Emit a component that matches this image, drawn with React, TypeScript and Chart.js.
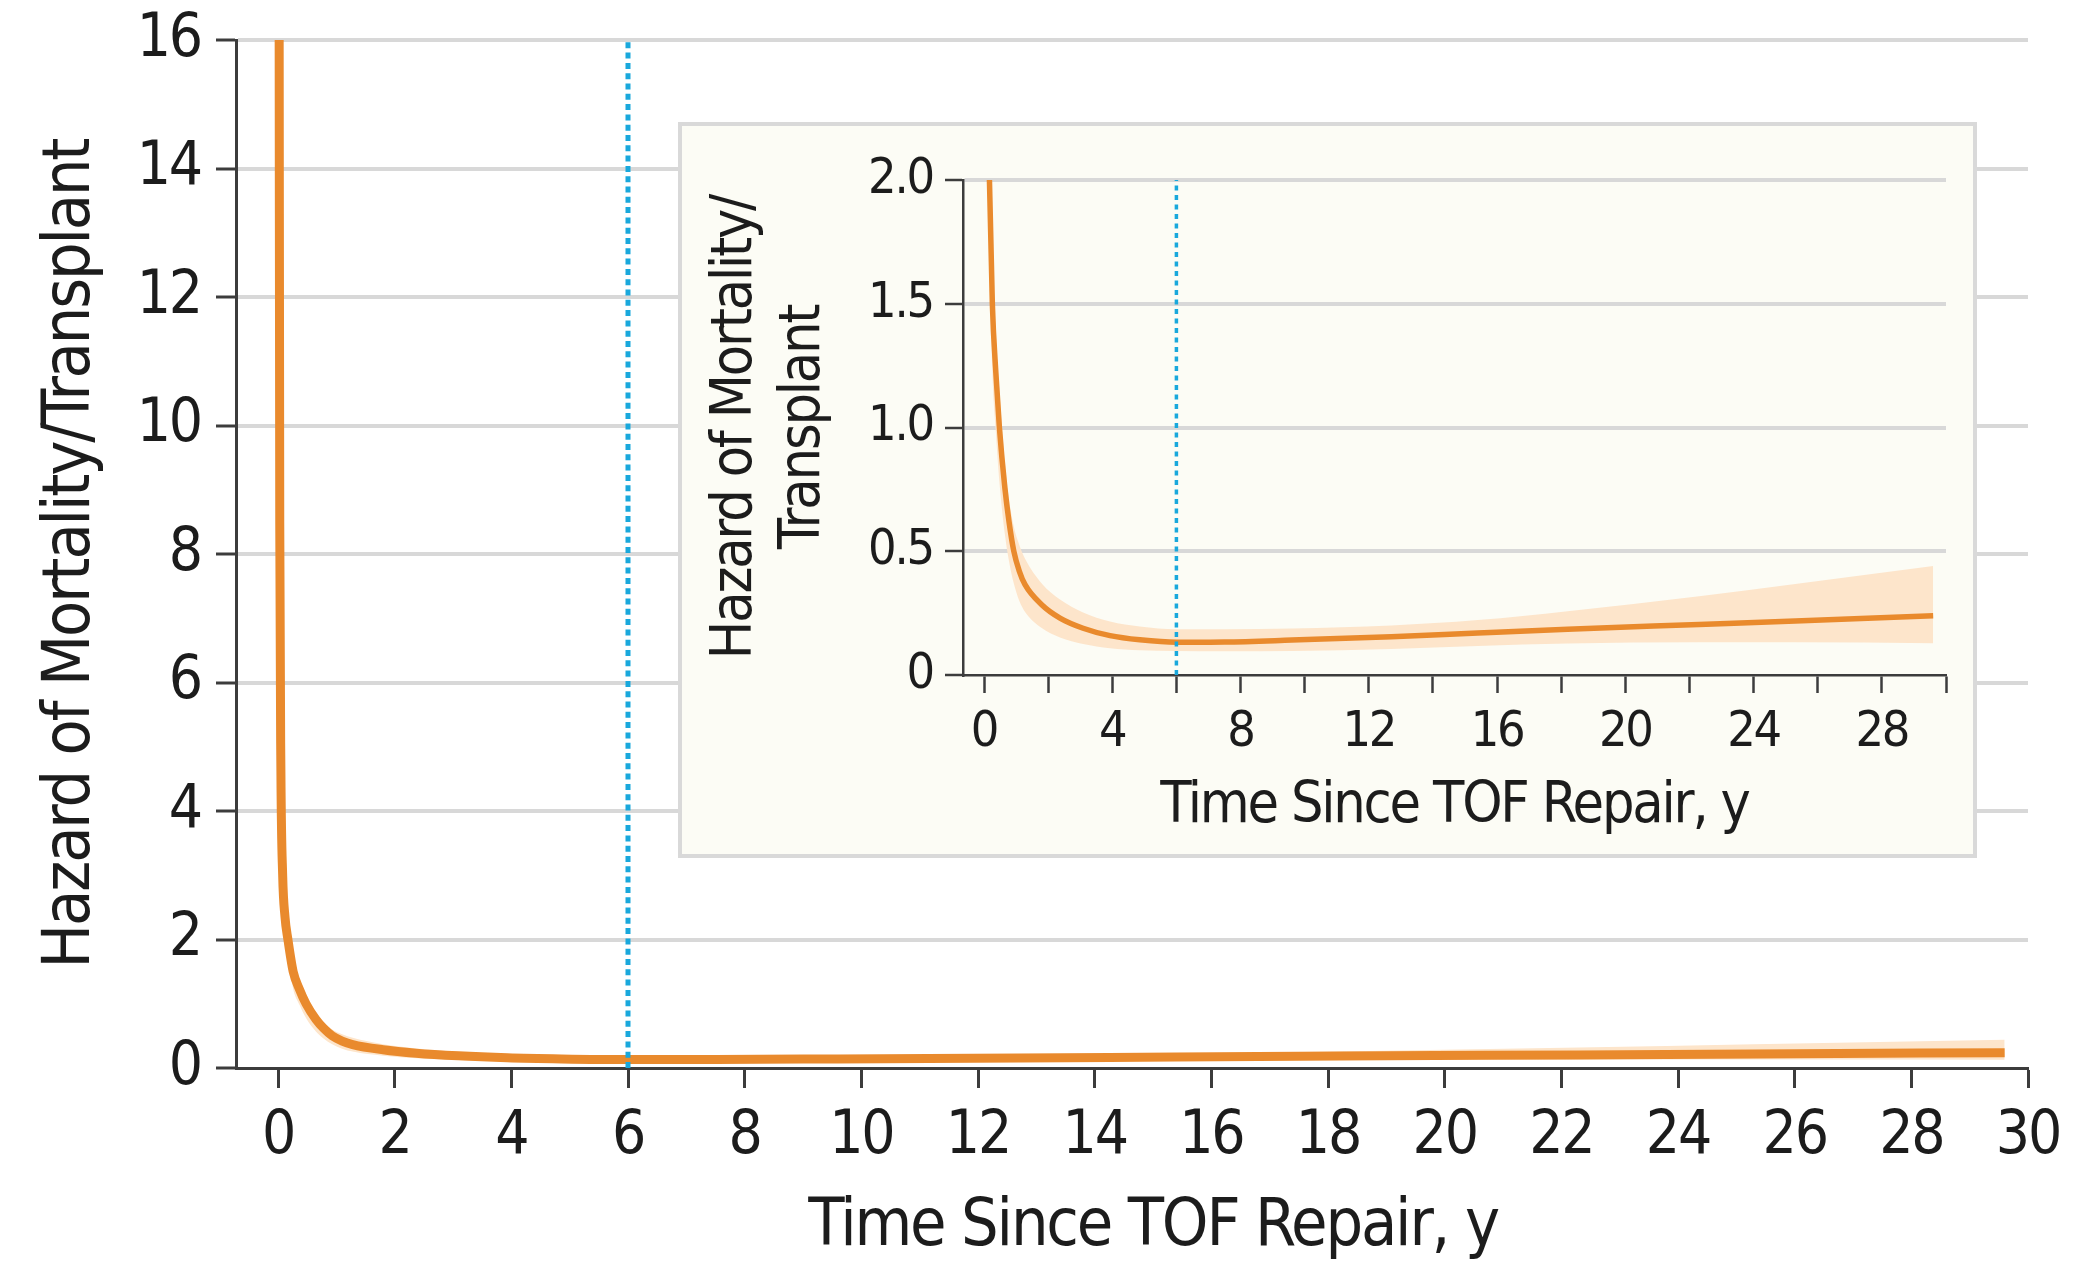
import React, { useEffect, useRef } from 'react';
import { Chart, registerables } from 'chart.js';

Chart.register(...registerables);

// ---------------- data ----------------
const timeYears = [0.02, 0.03, 0.05, 0.08, 0.12, 0.17, 0.26, 0.37, 0.48, 0.65, 0.78, 0.93, 1.1, 1.28, 1.8, 2.37, 3.09, 3.93, 4.86, 6.0, 7.5, 9.6, 12.7, 15.4, 18.2, 22.3, 25.3, 29.6];
const hazard = [16, 8.5, 4.6, 3.0, 2.35, 2.0, 1.5, 1.22, 1.0, 0.757, 0.62, 0.5, 0.42, 0.365, 0.284, 0.23, 0.189, 0.159, 0.142, 0.132, 0.133, 0.141, 0.155, 0.17, 0.185, 0.204, 0.218, 0.239];
const hazardUpper = [16, 9.5, 5.1, 3.3, 2.6, 2.2, 1.68, 1.38, 1.15, 0.86, 0.71, 0.6, 0.525, 0.47, 0.37, 0.305, 0.253, 0.216, 0.196, 0.185, 0.185, 0.188, 0.2, 0.222, 0.258, 0.318, 0.368, 0.44];
const hazardLower = [16, 7.8, 4.1, 2.7, 2.1, 1.75, 1.23, 0.98, 0.78, 0.57, 0.46, 0.37, 0.3, 0.255, 0.19, 0.152, 0.125, 0.108, 0.1, 0.097, 0.096, 0.097, 0.105, 0.117, 0.127, 0.132, 0.132, 0.128];
const landmarkYear = 6;

const mainXTicks = [0, 2, 4, 6, 8, 10, 12, 14, 16, 18, 20, 22, 24, 26, 28, 30];
const mainXLabels = ['0', '2', '4', '6', '8', '10', '12', '14', '16', '18', '20', '22', '24', '26', '28', '30'];
const mainYTicks = [0, 2, 4, 6, 8, 10, 12, 14, 16];
const mainYLabels = ['0', '2', '4', '6', '8', '10', '12', '14', '16'];
const insetXTicks = [0, 2, 4, 6, 8, 10, 12, 14, 16, 18, 20, 22, 24, 26, 28, 30];
const insetXLabels = ['0', '', '4', '', '8', '', '12', '', '16', '', '20', '', '24', '', '28', ''];
const insetYTicks = [0, 0.5, 1, 1.5, 2];
const insetYLabels = ['0', '0.5', '1.0', '1.5', '2.0'];

const xTitle = 'Time Since TOF Repair, y';
const mainYTitle = 'Hazard of Mortality/Transplant';
const insetYTitle = ['Hazard of Mortality/', 'Transplant'];

// ---------------- style ----------------
const FONT = '"Noto Sans Condensed", "Liberation Sans Narrow", "DejaVu Sans Condensed", "Liberation Sans", sans-serif';
const ORANGE = '#e98a2d';
const BAND = '#fde5cb';
const BLUE = '#19a8dc';
const GRID = '#d8d8d8';
const AXIS = '#3c3c3c';
const TEXT = '#1c1c1c';

// narrows the lettering a little when only a wide sans face is available
const condensePlugin = {
  id: 'condense',
  beforeDraw(chart: any, _args: any, opts: any) {
    const ctx = chart.ctx as any;
    if (!('letterSpacing' in ctx)) return;
    ctx.letterSpacing = '0px';
    ctx.font = `${opts.size}px ${FONT}`;
    const w = ctx.measureText(xTitle).width;
    let ls = (opts.target - w) / xTitle.length;
    ls = Math.max(-2.2, Math.min(1, ls));
    ctx.letterSpacing = ls.toFixed(2) + 'px';
  },
};

// x-axis title centred over the data range [from, to] of the x scale
const dataTitlePlugin = {
  id: 'dataTitle',
  afterDraw(chart: any, _args: any, opts: any) {
    if (!opts || !opts.text) return;
    const xs = chart.scales.x;
    const cx = (xs.getPixelForValue(opts.from) + xs.getPixelForValue(opts.to)) / 2;
    const ctx = chart.ctx;
    ctx.save();
    ctx.font = `${opts.size}px ${FONT}`;
    ctx.fillStyle = TEXT;
    ctx.textAlign = 'center';
    ctx.textBaseline = 'middle';
    ctx.fillText(opts.text, cx, chart.height - opts.offset);
    ctx.restore();
  },
};

type Cfg = {
  xMin: number; xMax: number; yMax: number;
  xTicks: number[]; xLabels: string[]; yTicks: number[]; yLabels: string[];
  yTitle: string | string[];
  padding: { top: number; right: number; left: number; bottom: number };
  yWidth: number; xHeight: number;
  tickFont: number; titleFont: number; titleLH: number;
  xTickPad: number; yTickPad: number; tickLen: number; axisW: number;
  xTitlePadBottom: number; yTitlePadTop: number;
  lineW: number; blueW: number; blueDash: number[];
  titleTarget: number;
  xTitleOnData: boolean;
};

function buildConfig(c: Cfg): any {
  const pts = (ys: number[]) => timeYears.map((t, i) => ({ x: t, y: ys[i] }));
  return {
    type: 'line',
    data: {
      datasets: [
        { data: pts(hazardUpper), borderWidth: 0, pointRadius: 0, fill: '+1', backgroundColor: BAND, borderColor: 'rgba(0,0,0,0)', cubicInterpolationMode: 'monotone', order: 3, clip: 0 },
        { data: pts(hazardLower), borderWidth: 0, pointRadius: 0, fill: false, borderColor: 'rgba(0,0,0,0)', cubicInterpolationMode: 'monotone', order: 4, clip: 0 },
        { data: pts(hazard), borderWidth: c.lineW, pointRadius: 0, fill: false, borderColor: ORANGE, cubicInterpolationMode: 'monotone', order: 2, clip: 0, borderCapStyle: 'butt' },
        { data: [{ x: landmarkYear, y: 0 }, { x: landmarkYear, y: c.yMax }], borderWidth: c.blueW, pointRadius: 0, fill: false, borderColor: BLUE, borderDash: c.blueDash, borderCapStyle: 'butt', order: 1, clip: 0 },
      ],
    },
    plugins: [condensePlugin, dataTitlePlugin],
    options: {
      responsive: false,
      animation: false,
      devicePixelRatio: 1,
      layout: { padding: c.padding },
      plugins: {
        legend: { display: false },
        tooltip: { enabled: false },
        title: { display: false },
        condense: { size: c.titleFont, target: c.titleTarget },
        dataTitle: c.xTitleOnData
          ? { text: xTitle, from: 0, to: c.xMax, size: c.titleFont, offset: c.titleFont * c.titleLH / 2 + c.xTitlePadBottom }
          : { text: '' },
      },
      scales: {
        x: {
          type: 'linear',
          min: c.xMin,
          max: c.xMax,
          afterBuildTicks: (s: any) => { s.ticks = c.xTicks.map((v) => ({ value: v })); },
          afterFit: (s: any) => { s.height = c.xHeight; },
          grid: { drawOnChartArea: false, drawTicks: true, tickLength: c.tickLen, tickColor: AXIS, tickWidth: c.axisW },
          border: { display: true, color: AXIS, width: c.axisW },
          ticks: {
            autoSkip: false, maxRotation: 0, minRotation: 0, padding: c.xTickPad, color: TEXT,
            font: { family: FONT, size: c.tickFont, lineHeight: 1.2 },
            callback: (_v: any, i: number) => c.xLabels[i],
          },
          title: { display: !c.xTitleOnData, text: xTitle, color: TEXT, font: { family: FONT, size: c.titleFont, lineHeight: c.titleLH }, padding: { top: 0, bottom: c.xTitlePadBottom } },
        },
        y: {
          type: 'linear',
          min: 0,
          max: c.yMax,
          afterBuildTicks: (s: any) => { s.ticks = c.yTicks.map((v) => ({ value: v })); },
          afterFit: (s: any) => { s.width = c.yWidth; },
          grid: {
            color: (ctx: any) => (ctx.tick && ctx.tick.value === 0 ? 'rgba(0,0,0,0)' : GRID),
            lineWidth: 4, drawTicks: true, tickLength: c.tickLen, tickColor: AXIS, tickWidth: c.axisW,
          },
          border: { display: true, color: AXIS, width: c.axisW },
          ticks: {
            padding: c.yTickPad, color: TEXT,
            font: { family: FONT, size: c.tickFont, lineHeight: 0.8 },
            callback: (_v: any, i: number) => c.yLabels[i],
          },
          title: { display: true, text: c.yTitle, color: TEXT, font: { family: FONT, size: c.titleFont, lineHeight: c.titleLH }, padding: { top: c.yTitlePadTop, bottom: 0 } },
        },
      },
    },
  };
}

export default function App() {
  const mainRef = useRef<HTMLCanvasElement | null>(null);
  const insetRef = useRef<HTMLCanvasElement | null>(null);

  useEffect(() => {
    const main = new Chart(mainRef.current as HTMLCanvasElement, buildConfig({
      xMin: -0.72, xMax: 30, yMax: 16,
      xTicks: mainXTicks, xLabels: mainXLabels, yTicks: mainYTicks, yLabels: mainYLabels,
      yTitle: mainYTitle,
      padding: { top: 40, right: 48, left: 0, bottom: 0 },
      yWidth: 236, xHeight: 195,
      tickFont: 60, titleFont: 66, titleLH: 1.0,
      xTickPad: 13, yTickPad: 15, tickLen: 20, axisW: 3,
      xTitlePadBottom: 2, yTitlePadTop: 39,
      lineW: 9, blueW: 5, blueDash: [6, 4.3],
      titleTarget: 685,
      xTitleOnData: true,
    }));
    const inset = new Chart(insetRef.current as HTMLCanvasElement, buildConfig({
      xMin: -0.655, xMax: 30, yMax: 2,
      xTicks: insetXTicks, xLabels: insetXLabels, yTicks: insetYTicks, yLabels: insetYLabels,
      yTitle: insetYTitle,
      padding: { top: 54, right: 27, left: 0, bottom: 0 },
      yWidth: 281, xHeight: 179,
      tickFont: 50, titleFont: 57, titleLH: 1.2,
      xTickPad: 10, yTickPad: 12, tickLen: 18, axisW: 2.5,
      xTitlePadBottom: 13, yTitlePadTop: 20,
      lineW: 5.5, blueW: 3.5, blueDash: [5, 4.5],
      titleTarget: 585,
      xTitleOnData: false,
    }));
    return () => { main.destroy(); inset.destroy(); };
  }, []);

  return (
    <div style={{ position: 'absolute', left: 0, top: 0, width: 2076, height: 1263, background: '#ffffff' }}>
      <canvas ref={mainRef} width={2076} height={1263} style={{ position: 'absolute', left: 0, top: 0 }} />
      <div style={{ position: 'absolute', left: 678, top: 122, width: 1299, height: 736, boxSizing: 'border-box', border: '4px solid #d9d9d9', background: '#fcfcf5' }}>
        <canvas ref={insetRef} width={1291} height={728} style={{ position: 'absolute', left: 0, top: 0 }} />
      </div>
    </div>
  );
}
